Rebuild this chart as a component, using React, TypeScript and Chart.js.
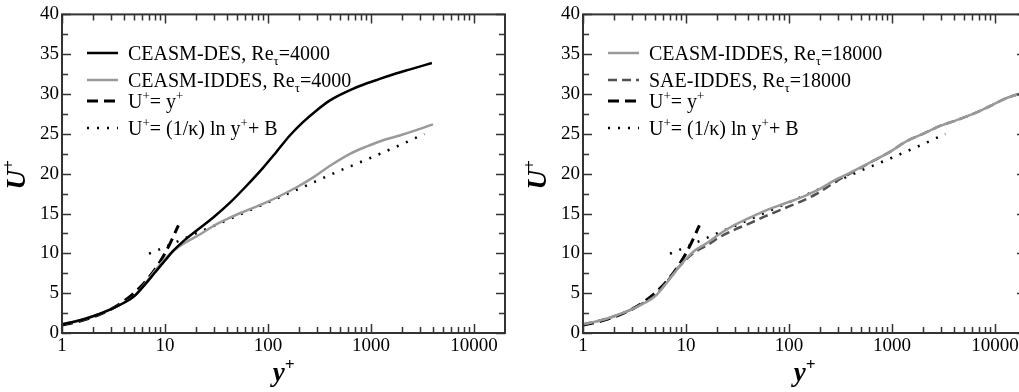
import React, { useEffect, useRef } from "react";
import { Chart, registerables } from "chart.js";
Chart.register(...registerables);

// ---------------- data ----------------
// Left panel, Re_tau = 4000
const desY = [1, 1.5, 2, 3, 4, 5, 6.5, 8, 10, 12, 15, 20, 30, 43, 60, 89, 120, 163, 220, 300, 400, 500, 650, 850, 1100, 1500, 2400, 3900];
const desU = [1.1, 1.6, 2.1, 3.0, 3.8, 4.6, 6.2, 7.6, 9.1, 10.3, 11.5, 12.8, 14.6, 16.4, 18.3, 20.7, 22.7, 24.8, 26.5, 28.0, 29.2, 29.9, 30.6, 31.2, 31.7, 32.3, 33.1, 33.9];

const iddes4Y = [1, 1.5, 2, 3, 4, 5, 6.5, 8, 10, 12, 16, 22, 30, 43, 60, 89, 130, 190, 280, 400, 625, 900, 1310, 1900, 2800, 4000];
const iddes4U = [1.1, 1.6, 2.1, 3.0, 3.8, 4.6, 6.3, 7.8, 9.3, 10.3, 11.4, 12.4, 13.5, 14.5, 15.3, 16.2, 17.2, 18.3, 19.6, 21.0, 22.5, 23.4, 24.2, 24.8, 25.5, 26.2];

// Right panel, Re_tau = 18000
const iddes18Y = [1, 1.5, 2, 3, 4, 5, 6.5, 8, 10, 12, 16, 21, 30, 42, 60, 88, 130, 187, 300, 390, 655, 1000, 1390, 2000, 2930, 4200, 6130, 9000, 13000, 18000];
const iddes18U = [1.1, 1.6, 2.1, 3.0, 3.8, 4.6, 6.3, 7.8, 9.3, 10.3, 11.3, 12.4, 13.6, 14.5, 15.4, 16.2, 17.0, 17.9, 19.4, 20.1, 21.6, 22.9, 24.1, 25.0, 26.0, 26.7, 27.5, 28.5, 29.5, 30.1];

const saeY = [1, 1.5, 2, 3, 4, 5, 6.5, 8, 10, 12, 16, 21, 30, 42, 60, 88, 130, 187, 300, 390, 655, 1000, 1390, 2000, 2930, 4200, 6130, 9000, 13000, 18000];
const saeU = [1.1, 1.6, 2.1, 3.0, 3.9, 4.7, 6.4, 7.9, 9.2, 10.1, 11.0, 12.0, 13.0, 13.8, 14.7, 15.6, 16.5, 17.5, 19.2, 20.0, 21.6, 22.9, 24.1, 25.0, 26.0, 26.7, 27.5, 28.5, 29.5, 30.1];

// Reference laws (both panels)
const linY = [1, 1.5, 2, 3, 4, 5, 7, 10, 13.5];
const linU = [1, 1.5, 2, 3, 4, 5, 7, 10, 13.5];

const logY = [7, 10, 20, 50, 100, 200, 500, 1000, 2000, 3300];
const logU = [9.95, 10.8, 12.5, 14.7, 16.4, 18.1, 20.4, 22.0, 23.7, 25.0];

// Axes
const X_MIN = 1;
const X_MAX = 20000;
const Y_MIN = 0;
const Y_MAX = 40;
const xMajorTicks = [1, 10, 100, 1000, 10000];
const xMinorTicks = [2, 3, 4, 5, 6, 7, 8, 9, 20, 30, 40, 50, 60, 70, 80, 90, 200, 300, 400, 500, 600, 700, 800, 900, 2000, 3000, 4000, 5000, 6000, 7000, 8000, 9000];
const yMajorTicks = [0, 5, 10, 15, 20, 25, 30, 35, 40];
const yMinorTicks = [2.5, 7.5, 12.5, 17.5, 22.5, 27.5, 32.5, 37.5];

// Legend labels
type Seg = { t: string; sup?: boolean; sub?: boolean };
const labDES4: Seg[] = [{ t: "CEASM-DES, Re" }, { t: "τ", sub: true }, { t: "=4000" }];
const labIDDES4: Seg[] = [{ t: "CEASM-IDDES, Re" }, { t: "τ", sub: true }, { t: "=4000" }];
const labIDDES18: Seg[] = [{ t: "CEASM-IDDES, Re" }, { t: "τ", sub: true }, { t: "=18000" }];
const labSAE18: Seg[] = [{ t: "SAE-IDDES, Re" }, { t: "τ", sub: true }, { t: "=18000" }];
const labLin: Seg[] = [{ t: "U" }, { t: "+", sup: true }, { t: "= y" }, { t: "+", sup: true }];
const labLog: Seg[] = [{ t: "U" }, { t: "+", sup: true }, { t: "= (1/κ) ln y" }, { t: "+", sup: true }, { t: "+ B" }];

// ---------------- styling ----------------
const SERIF = '"Liberation Serif", "Times New Roman", Times, serif';
const AXIS = "#333333";
const GRAY = "#9a9a9a";
const DARK = "#505050";

type Style = { color: string; width: number; dash: number[] };
const sDES: Style = { color: "#000000", width: 2.5, dash: [] };
const sIDDES: Style = { color: GRAY, width: 2.5, dash: [] };
const sSAE: Style = { color: DARK, width: 2.5, dash: [9, 5] };
const sLin: Style = { color: "#000000", width: 3, dash: [11, 6] };
const sLog: Style = { color: "#000000", width: 2.5, dash: [2, 8] };

type Series = { label: Seg[]; xs: number[]; us: number[]; style: Style; smooth: boolean };

const leftSeries: Series[] = [
  { label: labDES4, xs: desY, us: desU, style: sDES, smooth: true },
  { label: labIDDES4, xs: iddes4Y, us: iddes4U, style: sIDDES, smooth: true },
  { label: labLin, xs: linY, us: linU, style: sLin, smooth: true },
  { label: labLog, xs: logY, us: logU, style: sLog, smooth: false },
];
const rightSeries: Series[] = [
  { label: labIDDES18, xs: iddes18Y, us: iddes18U, style: sIDDES, smooth: true },
  { label: labSAE18, xs: saeY, us: saeU, style: sSAE, smooth: true },
  { label: labLin, xs: linY, us: linU, style: sLin, smooth: true },
  { label: labLog, xs: logY, us: logU, style: sLog, smooth: false },
];

const legendRows = [53, 80, 101, 128];

function drawRich(ctx: CanvasRenderingContext2D, x: number, y: number, segs: Seg[], size: number, style = "", supSize = 0) {
  let cx = x;
  for (const s of segs) {
    const small = s.sup || s.sub;
    const fs = small ? (supSize || Math.round(size * 0.65)) : size;
    ctx.font = `${style} ${fs}px ${SERIF}`;
    const dy = s.sup ? -size * 0.4 : s.sub ? size * 0.28 : 0;
    ctx.fillText(s.t, cx, y + dy);
    cx += ctx.measureText(s.t).width;
  }
  return cx - x;
}

function measureRich(ctx: CanvasRenderingContext2D, segs: Seg[], size: number, style = "", supSize = 0) {
  let w = 0;
  for (const s of segs) {
    const small = s.sup || s.sub;
    const fs = small ? (supSize || Math.round(size * 0.65)) : size;
    ctx.font = `${style} ${fs}px ${SERIF}`;
    w += ctx.measureText(s.t).width;
  }
  return w;
}

const W = 521;
const H = 392;

function Panel({ series, left }: { series: Series[]; left: number }) {
  const ref = useRef<HTMLCanvasElement | null>(null);
  useEffect(() => {
    const canvas = ref.current;
    if (!canvas) return;
    const framePlugin = {
      id: "frame",
      afterDraw(chart: any) {
        const ctx: CanvasRenderingContext2D = chart.ctx;
        const a = chart.chartArea;
        const xs = chart.scales.x;
        const ys = chart.scales.y;
        ctx.save();
        // frame
        ctx.strokeStyle = AXIS;
        ctx.lineWidth = 2;
        ctx.setLineDash([]);
        ctx.strokeRect(a.left, a.top, a.right - a.left, a.bottom - a.top);
        // inward ticks on all sides
        ctx.lineWidth = 1.5;
        ctx.beginPath();
        const xt = (vals: number[], len: number) => {
          for (const v of vals) {
            const px = Math.round(xs.getPixelForValue(v)) + 0.5;
            ctx.moveTo(px, a.bottom);
            ctx.lineTo(px, a.bottom - len);
            ctx.moveTo(px, a.top);
            ctx.lineTo(px, a.top + len);
          }
        };
        const yt = (vals: number[], len: number) => {
          for (const v of vals) {
            const py = Math.round(ys.getPixelForValue(v)) + 0.5;
            ctx.moveTo(a.left, py);
            ctx.lineTo(a.left + len, py);
            ctx.moveTo(a.right, py);
            ctx.lineTo(a.right - len, py);
          }
        };
        xt(xMajorTicks, 9);
        xt(xMinorTicks, 6);
        yt(yMajorTicks, 9);
        yt(yMinorTicks, 6);
        ctx.stroke();

        // axis titles
        ctx.fillStyle = "#000";
        ctx.textBaseline = "alphabetic";
        ctx.textAlign = "left";
        const titleY: Seg[] = [{ t: "U" }, { t: "+", sup: true }];
        ctx.save();
        ctx.translate(16, 175);
        ctx.rotate(-Math.PI / 2);
        const wy = measureRich(ctx, titleY, 27, "italic bold", 17);
        drawRich(ctx, -wy / 2, 9, titleY, 27, "italic bold", 17);
        ctx.restore();
        const titleX: Seg[] = [{ t: "y" }, { t: "+", sup: true }];
        const wx = measureRich(ctx, titleX, 27, "italic bold", 17);
        const cx = (a.left + a.right) / 2;
        drawRich(ctx, cx - wx / 2, 381, titleX, 27, "italic bold", 17);

        // legend
        series.forEach((s, i) => {
          const yc = legendRows[i];
          ctx.strokeStyle = s.style.color;
          ctx.lineWidth = s.style.width;
          ctx.setLineDash(s.style.dash);
          ctx.beginPath();
          ctx.moveTo(a.left + 25, yc);
          ctx.lineTo(a.left + 56, yc);
          ctx.stroke();
          ctx.setLineDash([]);
          ctx.fillStyle = "#000";
          drawRich(ctx, a.left + 66, yc + 6.5, s.label, 20, "", 13);
        });
        ctx.restore();
      },
    };

    const chart = new Chart(canvas, {
      type: "line",
      data: {
        datasets: series.map((s) => ({
          label: s.label.map((g) => g.t).join(""),
          data: s.xs.map((x, i) => ({ x, y: s.us[i] })),
          borderColor: s.style.color,
          borderWidth: s.style.width,
          borderDash: s.style.dash,
          pointRadius: 0,
          fill: false,
          cubicInterpolationMode: s.smooth ? "monotone" : "default",
          tension: 0,
        })),
      },
      options: {
        animation: false,
        responsive: false,
        maintainAspectRatio: false,
        events: [],
        layout: { padding: { left: 0, right: W - 505, top: 13, bottom: 0 } },
        plugins: { legend: { display: false }, tooltip: { enabled: false }, title: { display: false } },
        scales: {
          x: {
            type: "logarithmic",
            min: X_MIN,
            max: X_MAX,
            afterBuildTicks: (sc: any) => {
              sc.ticks = xMajorTicks.map((v) => ({ value: v, major: true }));
            },
            afterFit: (sc: any) => {
              sc.height = H - 333;
            },
            grid: { display: false, drawTicks: false },
            border: { display: false },
            ticks: {
              autoSkip: false,
              maxRotation: 0,
              padding: 2,
              color: "#000",
              font: { family: SERIF, size: 19 },
              callback: (v: any) => String(v),
            },
          },
          y: {
            type: "linear",
            min: Y_MIN,
            max: Y_MAX,
            afterBuildTicks: (sc: any) => {
              sc.ticks = yMajorTicks.map((v) => ({ value: v }));
            },
            afterFit: (sc: any) => {
              sc.width = 62;
            },
            grid: { display: false, drawTicks: false },
            border: { display: false },
            ticks: {
              autoSkip: false,
              padding: 3,
              color: "#000",
              font: { family: SERIF, size: 19 },
              callback: (v: any) => String(v),
            },
          },
        },
      },
      plugins: [framePlugin],
    } as any);
    return () => chart.destroy();
  }, [series]);
  return (
    <canvas
      ref={ref}
      width={W}
      height={H}
      style={{ position: "absolute", left, top: 0, width: W, height: H, display: "block" }}
    />
  );
}

export default function App() {
  return (
    <div
      style={{
        position: "fixed",
        left: 0,
        top: 0,
        width: 1019,
        height: 392,
        overflow: "hidden",
        background: "#ffffff",
      }}
    >
      <Panel series={leftSeries} left={0} />
      <Panel series={rightSeries} left={521} />
    </div>
  );
}
